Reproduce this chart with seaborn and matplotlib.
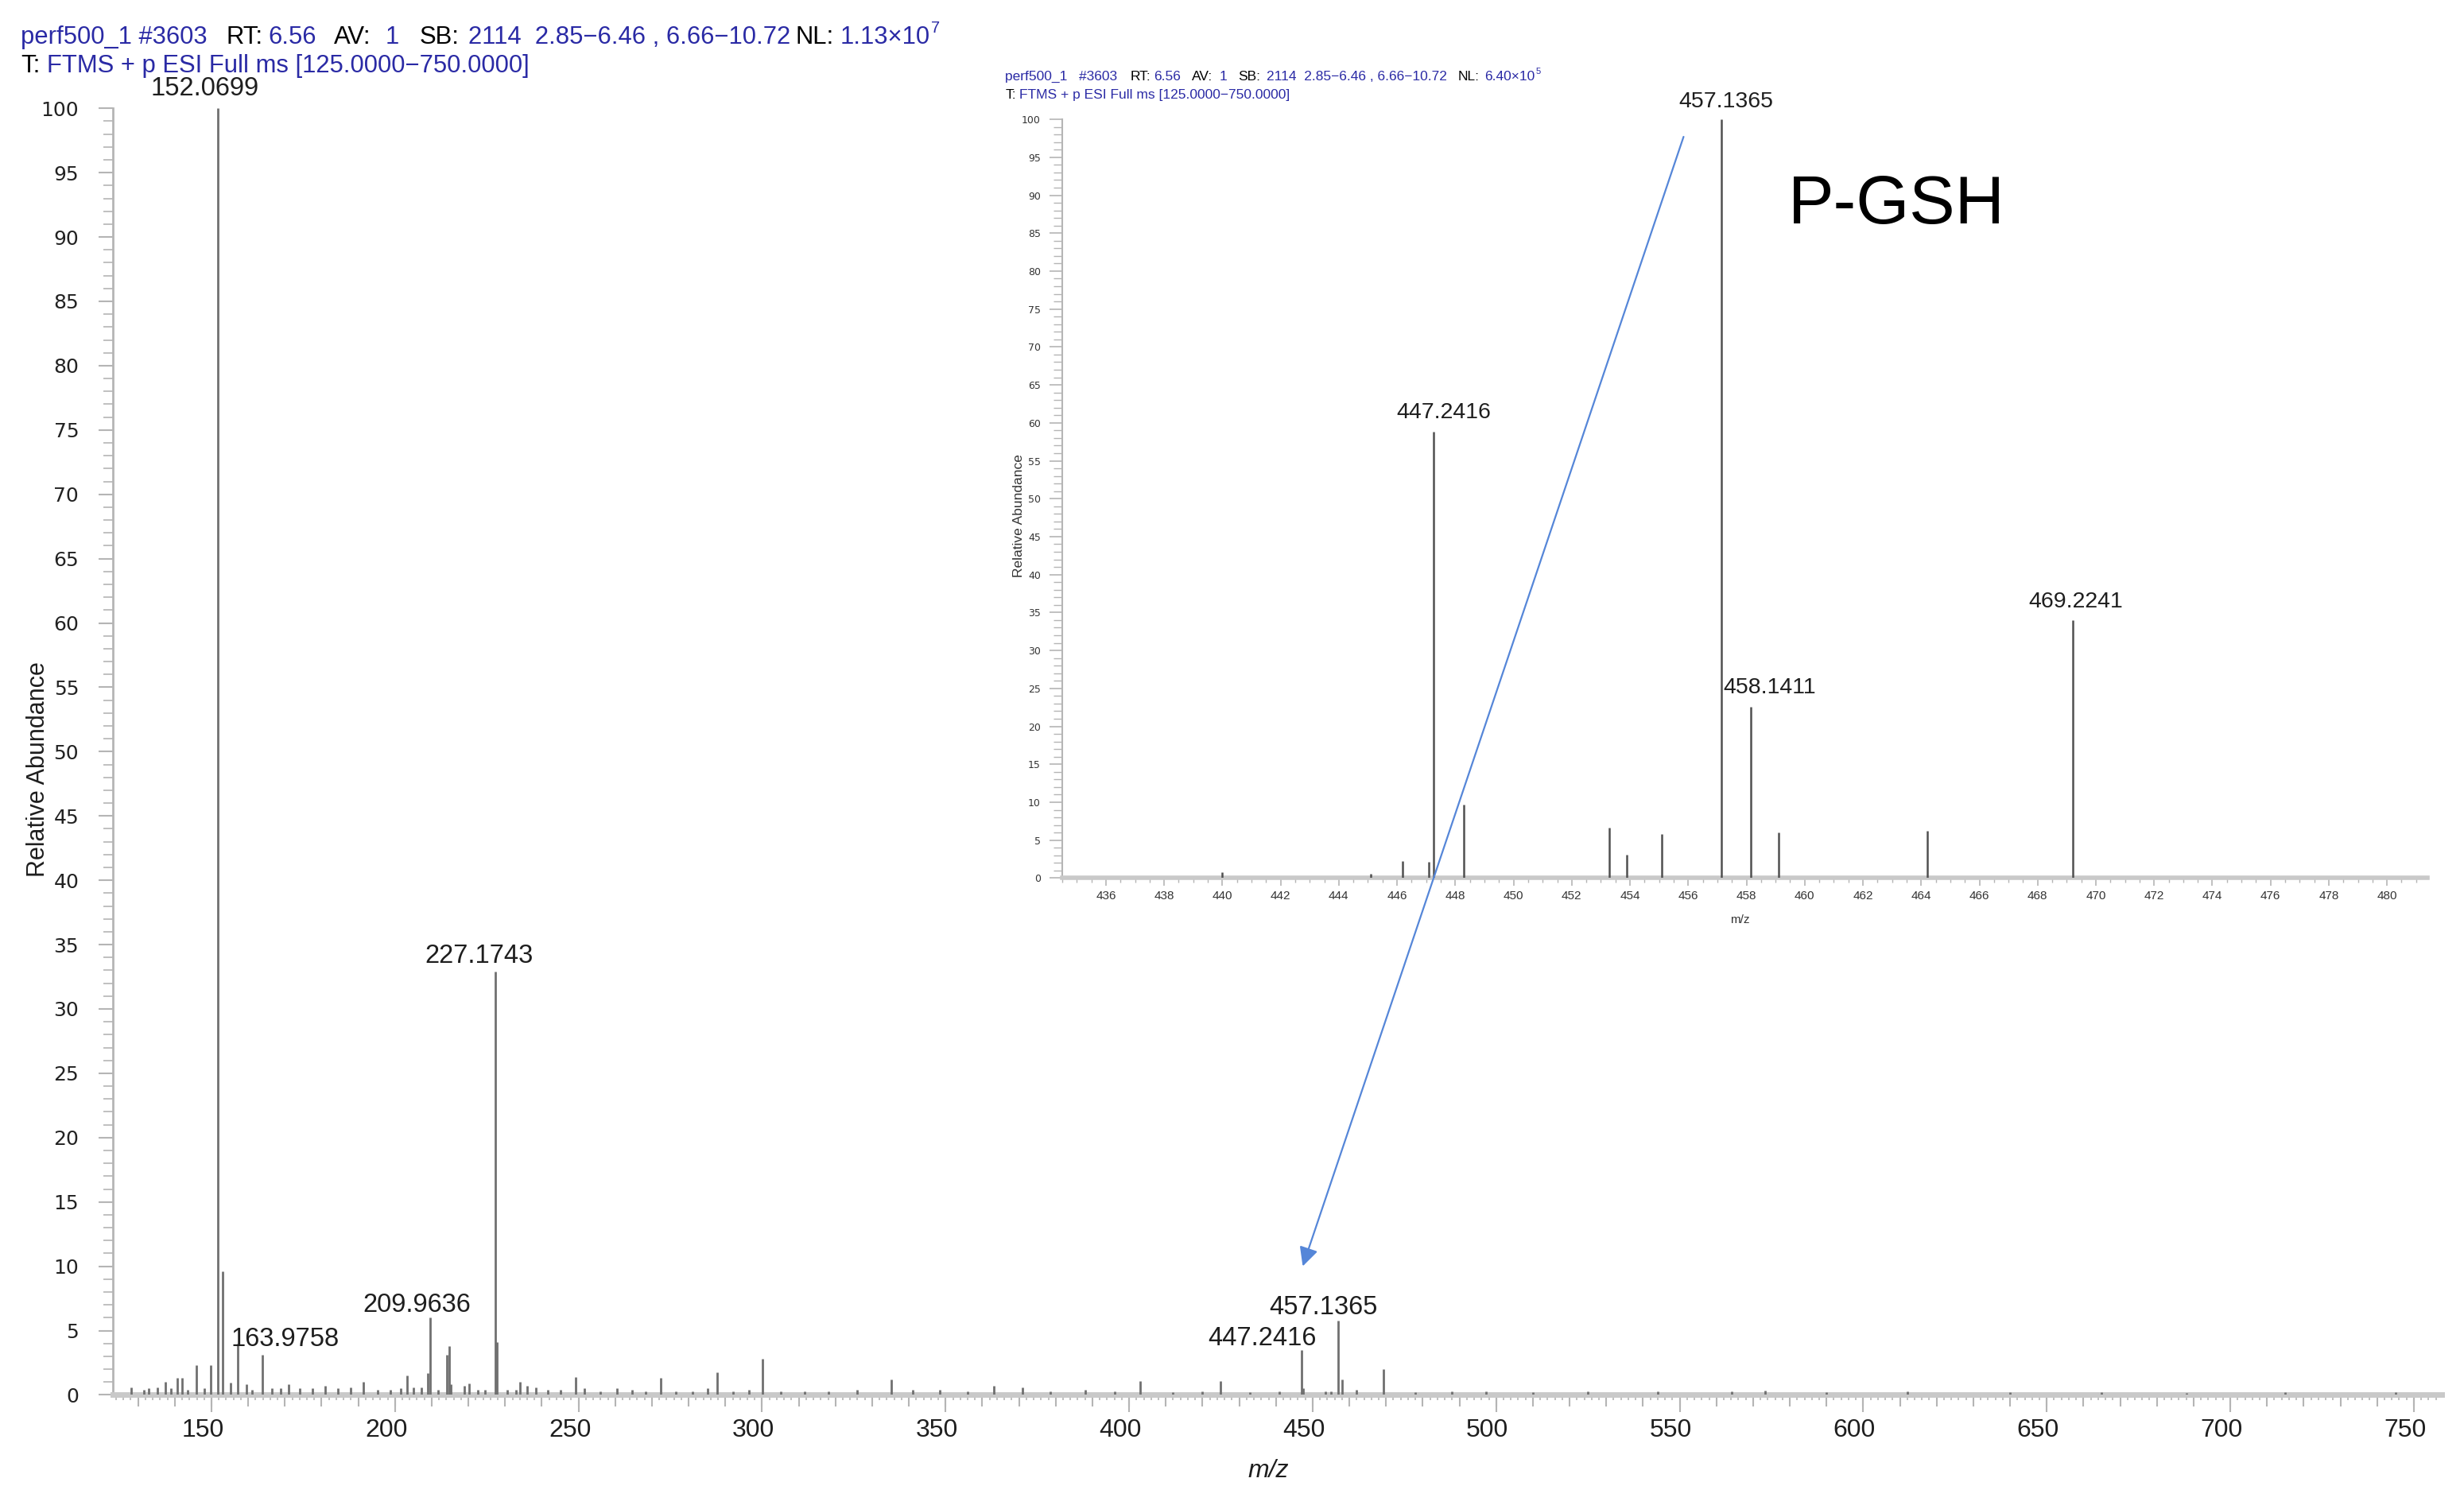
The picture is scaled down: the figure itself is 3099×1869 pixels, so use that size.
import numpy as np
import pandas as pd
import matplotlib
matplotlib.use("Agg")
import matplotlib.pyplot as plt
import seaborn as sns
from matplotlib.ticker import MultipleLocator, NullFormatter
from matplotlib.patches import ConnectionPatch
from matplotlib.transforms import ScaledTranslation

# full scan, peaks (m/z, relative abundance)
main_mz = [128.1, 131.5, 133.0, 135.2, 137.5, 139.0, 140.8, 142.1, 143.5, 145.9,
           148.0, 149.8, 151.8, 153.1, 155.1, 157.1, 159.6, 161.0, 163.9, 166.5,
           168.9, 171.1, 174.0, 177.5, 181.0, 184.5, 187.9, 191.4, 195.2, 198.8,
           201.5, 203.3, 205.1, 207.3, 209.0, 209.6, 211.8, 214.1, 214.8, 215.3,
           218.8, 220.1, 222.5, 224.6, 227.3, 227.8, 230.5, 232.9, 234.0, 236.0,
           238.4, 241.6, 245.0, 249.2, 251.5, 256.0, 260.4, 264.5, 268.3, 272.3,
           276.5, 281.0, 285.2, 287.8, 292.0, 296.5, 300.2, 305.0, 311.5, 318.0,
           326.0, 335.3, 341.0, 348.5, 356.0, 363.2, 371.0, 378.5, 388.0, 396.0,
           403.0, 412.0, 420.0, 424.8, 433.0, 441.0, 447.0, 447.5, 453.5, 455.0,
           457.0, 458.0, 462.0, 469.2, 478.0, 488.0, 497.2, 510.0, 525.0, 544.0,
           564.1, 573.2, 590.0, 612.0, 640.0, 665.0, 688.0, 715.0, 745.0]
main_int = [0.6, 0.4, 0.5, 0.6, 1.0, 0.5, 1.3, 1.3, 0.4, 2.3,
            0.5, 2.3, 100.0, 9.6, 0.95, 4.0, 0.8, 0.4, 3.1, 0.5,
            0.5, 0.8, 0.5, 0.5, 0.7, 0.5, 0.6, 1.0, 0.4, 0.4,
            0.5, 1.5, 0.6, 0.6, 1.7, 6.0, 0.4, 3.1, 3.8, 0.8,
            0.7, 0.9, 0.4, 0.4, 32.9, 4.1, 0.4, 0.4, 1.0, 0.7,
            0.6, 0.4, 0.4, 1.4, 0.5, 0.3, 0.5, 0.4, 0.3, 1.3,
            0.3, 0.3, 0.5, 1.75, 0.3, 0.4, 2.8, 0.3, 0.3, 0.3,
            0.4, 1.2, 0.4, 0.4, 0.3, 0.7, 0.6, 0.3, 0.4, 0.3,
            1.06, 0.2, 0.3, 1.06, 0.2, 0.3, 3.5, 0.5, 0.3, 0.3,
            5.8, 1.2, 0.4, 2.0, 0.2, 0.3, 0.3, 0.2, 0.3, 0.3,
            0.3, 0.35, 0.2, 0.3, 0.2, 0.2, 0.15, 0.2, 0.2]

main_label_text = ["152.0699", "227.1743", "209.9636", "163.9758", "447.2416", "457.1365"]
main_label_x = [148.1, 223.0, 205.9, 170.0, 436.2, 452.9]
main_label_y = [101.5, 34.1, 7.0, 4.3, 4.4, 6.8]

# zoomed scan 434-481
inset_mz = [440.0, 445.1, 446.2, 447.1, 447.24, 448.3, 453.3, 453.9, 455.1,
            457.14, 458.14, 459.1, 464.2, 469.22]
inset_int = [0.8, 0.6, 2.2, 2.1, 58.8, 9.7, 6.6, 3.1, 5.8,
             100.0, 22.6, 6.0, 6.2, 34.0]
inset_label_text = ["457.1365", "447.2416", "458.1411", "469.2241"]
inset_label_x = [457.3, 447.6, 458.8, 469.3]
inset_label_y = [102.3, 61.3, 25.1, 36.4]

x_major = list(range(150, 751, 50))
x_major_labels = [str(v) for v in x_major]
y_major = list(range(0, 101, 5))
y_major_labels = [str(v) for v in y_major]
xi_major = list(range(436, 481, 2))
xi_major_labels = [str(v) for v in xi_major]

BLUE = "#2a2aa5"
GRAY_AX = "#b5b5b5"

sns.set_theme(style="white")
plt.rcParams["font.family"] = ["Liberation Sans", "DejaVu Sans"]

main_df = pd.DataFrame({"mz": main_mz, "intensity": main_int})
inset_df = pd.DataFrame({"mz": inset_mz, "intensity": inset_int})

fig = plt.figure(figsize=(30.99, 18.69), dpi=100)
ax = fig.add_axes([0.0459, 0.0613, 0.9452, 0.8658])
axi = fig.add_axes([0.4311, 0.4091, 0.5542, 0.5106])
axi.set_facecolor("none")

# ---- main spectrum
ax.vlines(main_df["mz"], 0, main_df["intensity"], colors="#707070", lw=2.0, zorder=3)
ax.set_xlim(123.2, 757.7)
ax.set_ylim(0, 100)
for t, x, y in zip(main_label_text, main_label_x, main_label_y):
    ax.text(x, y, t, ha="center", va="center", fontsize=23.5, color="#1e1e1e", clip_on=False)

sns.despine(ax=ax)
ax.spines["bottom"].set_color("#c9c9c9")
ax.spines["bottom"].set_linewidth(5)
ax.spines["left"].set_color(GRAY_AX)
ax.spines["left"].set_linewidth(2)

ax.set_yticks(y_major)
ax.set_yticklabels(y_major_labels, fontfamily="DejaVu Sans", fontsize=18, color="#222222")
ax.yaxis.set_minor_locator(MultipleLocator(1))
ax.tick_params(axis="y", which="major", left=True, length=13, width=1.5, color=GRAY_AX, pad=18)
ax.tick_params(axis="y", which="minor", left=True, length=9, width=1.2, color=GRAY_AX)

ax.xaxis.set_major_locator(MultipleLocator(10))
ax.xaxis.set_major_formatter(NullFormatter())
ax.xaxis.set_minor_locator(MultipleLocator(2))
ax.tick_params(axis="x", which="major", bottom=True, length=10.8, width=1.5, color=GRAY_AX)
ax.tick_params(axis="x", which="minor", bottom=True, length=5, width=1.2, color=GRAY_AX)

sec = ax.secondary_xaxis("bottom")
sec.set_xticks(x_major, labels=x_major_labels)
sec.tick_params(length=15.6, width=1.5, color=GRAY_AX, pad=6, labelsize=23, labelcolor="#1e1e1e")
sec.spines["bottom"].set_visible(False)

ax.set_ylabel("Relative Abundance", fontsize=22, color="#1e1e1e")
ax.yaxis.set_label_coords(-0.027, 0.486)
ax.set_xlabel("m/z", fontsize=23, style="italic", color="#1e1e1e")
ax.xaxis.set_label_coords(0.496, -0.05)

# ---- inset spectrum
axi.vlines(inset_df["mz"], 0, inset_df["intensity"], colors="#505050", lw=1.8, zorder=3)
axi.set_xlim(434.5, 481.4)
axi.set_ylim(0, 100)
for t, x, y in zip(inset_label_text, inset_label_x, inset_label_y):
    axi.text(x, y, t, ha="center", va="center", fontsize=20.5, color="#1e1e1e", clip_on=False)

sns.despine(ax=axi)
axi.spines["bottom"].set_color("#c9c9c9")
axi.spines["bottom"].set_linewidth(4)
axi.spines["left"].set_color(GRAY_AX)
axi.spines["left"].set_linewidth(1.5)

axi.set_yticks(y_major)
axi.set_yticklabels(y_major_labels, fontfamily="DejaVu Sans", fontsize=9, color="#333333")
axi.yaxis.set_minor_locator(MultipleLocator(1))
axi.tick_params(axis="y", which="major", left=True, length=11.5, width=1.2, color=GRAY_AX, pad=8)
axi.tick_params(axis="y", which="minor", left=True, length=8, width=1.0, color=GRAY_AX)

axi.set_xticks(xi_major)
axi.set_xticklabels(xi_major_labels, fontsize=11, color="#333333")
axi.xaxis.set_minor_locator(MultipleLocator(0.5))
axi.tick_params(axis="x", which="major", bottom=True, length=7, width=1.2, color=GRAY_AX, pad=4)
axi.tick_params(axis="x", which="minor", bottom=True, length=4.5, width=1.0, color=GRAY_AX)

axi.set_ylabel("Relative Abundance", fontsize=12.5, color="#333333")
axi.yaxis.set_label_coords(-0.0276, 0.478)
axi.set_xlabel("m/z", fontsize=11, color="#333333")
axi.xaxis.set_label_coords(0.496, -0.048)

axi.text(0.611, 0.886, "P-GSH", transform=axi.transAxes, fontsize=62,
         ha="center", va="center", color="black")

# arrow from the inset to the 457 peak of the full scan
arrow = ConnectionPatch(xyA=(455.84, 97.7), coordsA=axi.transData,
                        xyB=(447.3, 10.0), coordsB=ax.transData,
                        arrowstyle="-|>", mutation_scale=36, color="#5586d8", lw=1.6, zorder=10)
fig.add_artist(arrow)

# ---- header lines (mixed colours)
renderer = fig.canvas.get_renderer()


def header(x, y, parts, size):
    for txt, col, gap, rise, scale in parts:
        x += gap / fig.bbox.width
        t = fig.text(x, y + rise, txt, color=col, fontsize=size * scale, ha="left", va="baseline")
        bb = t.get_window_extent(renderer)
        x = bb.x1 / fig.bbox.width


header(0.0085, 0.9704, [
    ("perf500_1 #3603", BLUE, 0, 0, 1),
    ("RT:", "black", 24, 0, 1),
    ("6.56", BLUE, 6, 0, 1),
    ("AV:", "black", 22, 0, 1),
    ("1", BLUE, 18, 0, 1),
    ("SB:", "black", 26, 0, 1),
    ("2114  2.85\u22126.46 , 6.66\u221210.72", BLUE, 12, 0, 1),
    ("NL:", "black", 6, 0, 1),
    ("1.13\u00d710", BLUE, 8, 0, 1),
    ("7", BLUE, 1, 0.0075, 0.65),
], 22.3)
header(0.0085, 0.9514, [
    ("T:", "black", 0, 0, 1),
    ("FTMS + p ESI Full ms [125.0000\u2212750.0000]", BLUE, 8, 0, 1),
], 22.3)

header(0.408, 0.946, [
    ("perf500_1   #3603", BLUE, 0, 0, 1),
    ("RT:", "black", 16, 0, 1),
    ("6.56", BLUE, 4, 0, 1),
    ("AV:", "black", 14, 0, 1),
    ("1", BLUE, 8, 0, 1),
    ("SB:", "black", 14, 0, 1),
    ("2114  2.85\u22126.46 , 6.66\u221210.72", BLUE, 8, 0, 1),
    ("NL:", "black", 14, 0, 1),
    ("6.40\u00d710", BLUE, 6, 0, 1),
    ("5", BLUE, 1, 0.004, 0.65),
], 12.5)
header(0.408, 0.9334, [
    ("T:", "black", 0, 0, 1),
    ("FTMS + p ESI Full ms [125.0000\u2212750.0000]", BLUE, 4, 0, 1),
], 12.5)

# tick labels of the full scan sit a little left of their ticks
fig.canvas.draw()
shift = ScaledTranslation(-0.11, 0, fig.dpi_scale_trans)
for lab in sec.get_xticklabels():
    lab.set_transform(lab.get_transform() + shift)

fig.savefig("out.png", dpi=100)
